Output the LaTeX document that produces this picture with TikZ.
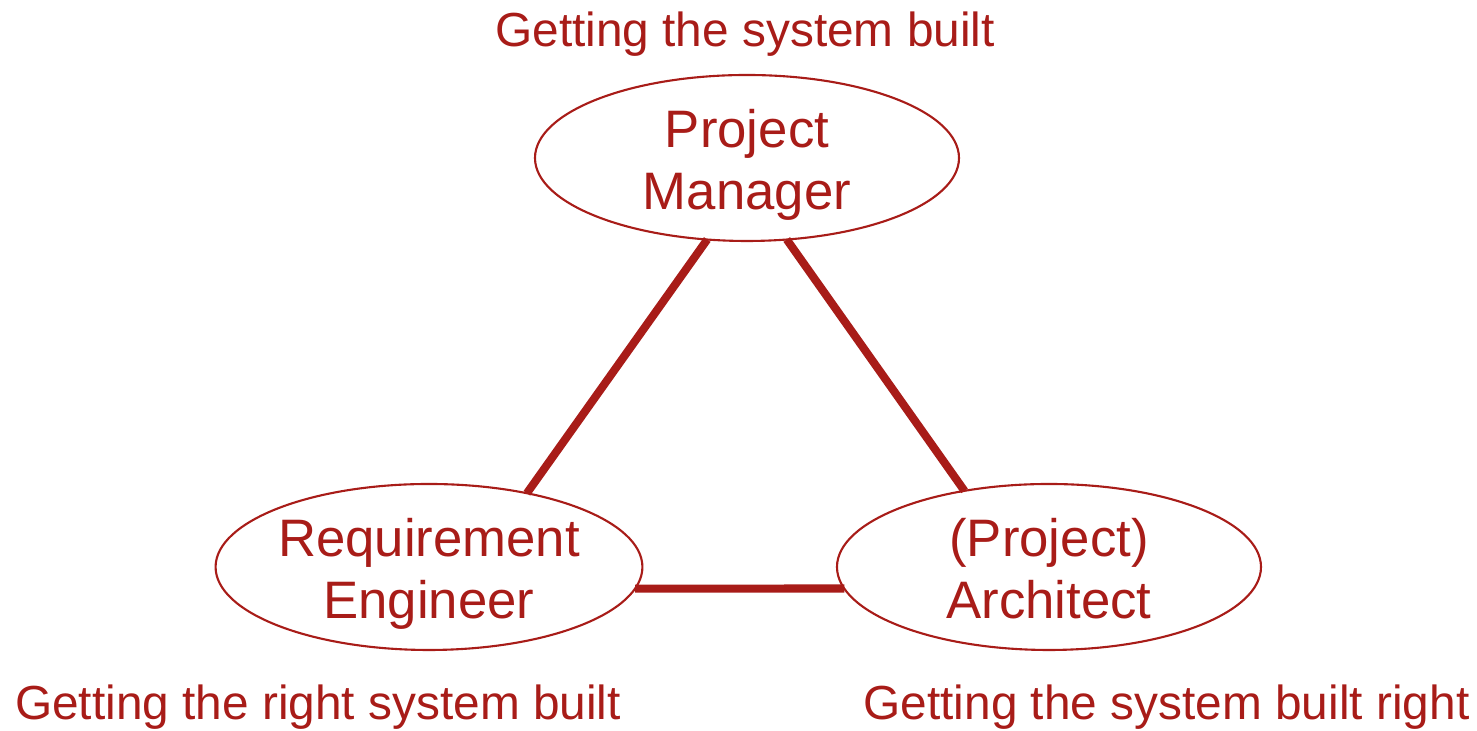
\documentclass[tikz,border=0pt]{standalone}
\usepackage{fontspec}
\setmainfont{Liberation Sans}
\usetikzlibrary{shapes.geometric,positioning}
\definecolor{rolered}{HTML}{A81C18}
\tikzset{
  role/.style={ellipse, draw=rolered, line width=0.6pt, text=rolered, outer sep=0pt,
    minimum width=4.24cm, minimum height=1.66cm, inner xsep=0pt, inner ysep=-0.2cm,
    align=center, font=\fontsize{15}{17.9}\selectfont,
    execute at begin node={\rule{0pt}{1.2cm}},
    execute at end node={\rule[-0.16cm]{0pt}{0.16cm}}},
  goal/.style={text=rolered, anchor=base, inner sep=0pt, font=\fontsize{13.6}{16}\selectfont},
  link/.style={draw=rolered, line width=2.3pt}
}
\begin{document}
\begin{tikzpicture}
            \useasboundingbox (0,0) rectangle (14.77,7.31);
            \node[role] (pm) at (7.47,5.73) {Project\\Manager};
            \node[role] (re) at (4.29,1.64) {Requirement\\Engineer};
            \node[role] (pa) at (10.49,1.64) {(Project)\\Architect};
            \node[goal] (pmgoal) at (7.45,6.84) {Getting the system built};
            \node[goal] (regoal) at (3.18,0.11) {Getting the right system built};
            \node[goal] (pagoal) at (11.665,0.11) {Getting the system built right};
            % connectors between the roles
            \draw[link] (pm.244) -- (re.37);
            \draw[link] (pm.296) -- (pa.138);
            \draw[link] (re.-6.5) -- (pa.186.5);
        \end{tikzpicture}
\end{document}
